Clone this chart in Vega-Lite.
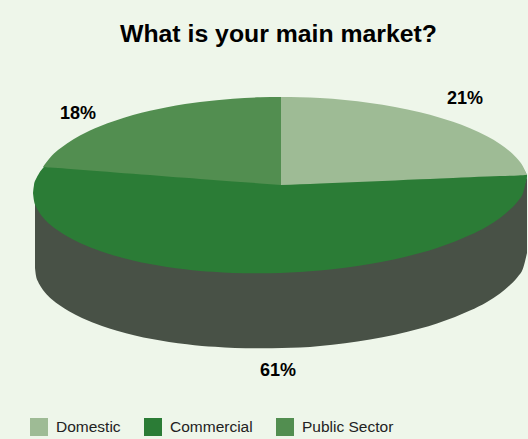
{"$schema":"https://vega.github.io/schema/vega-lite/v6.json","width":528,"height":389,"autosize":"none","padding":{"left":0,"top":50,"right":0,"bottom":0},"background":"#EEF6EA","title":{"text":"What is your main market?","font":"Liberation Sans","fontSize":24.8,"fontWeight":"bold","color":"#000000","anchor":"middle","offset":3,"dx":14.5},"config":{"view":{"stroke":null}},"datasets":{"wall":[{"x":35,"y":198,"y2":268},{"x":36,"y":203,"y2":275.8},{"x":38,"y":207,"y2":281.5},{"x":41,"y":211,"y2":287},{"x":45,"y":216,"y2":292.4},{"x":52,"y":222,"y2":299.4},{"x":60,"y":228,"y2":305.6},{"x":69,"y":234,"y2":311.3},{"x":82,"y":241,"y2":318},{"x":102,"y":249,"y2":326.1},{"x":117,"y":254,"y2":330.8},{"x":135,"y":258,"y2":335.4},{"x":152,"y":262,"y2":339},{"x":169,"y":265,"y2":341.9},{"x":187,"y":267,"y2":344.2},{"x":202,"y":269,"y2":345.9},{"x":215,"y":270,"y2":346.8},{"x":235,"y":271,"y2":347.9},{"x":262,"y":271,"y2":348.3},{"x":282,"y":271,"y2":348},{"x":300,"y":270,"y2":347.6},{"x":320,"y":268,"y2":346},{"x":345,"y":265,"y2":343.3},{"x":370,"y":261,"y2":339.6},{"x":395,"y":256,"y2":334.7},{"x":420,"y":250,"y2":328.5},{"x":437,"y":245,"y2":323.4},{"x":455,"y":238,"y2":317},{"x":470,"y":232,"y2":310.6},{"x":487,"y":223,"y2":301.9},{"x":500,"y":215,"y2":293.5},{"x":510,"y":206,"y2":285.1},{"x":518,"y":197,"y2":276.4},{"x":523,"y":189,"y2":268.4},{"x":527,"y":176,"y2":253}],"top":[{"market":"Commercial","x":33,"y":192.9,"y2":192.9},{"market":"Commercial","x":34,"y":185,"y2":200.8},{"market":"Commercial","x":36,"y":179.1,"y2":206.5},{"market":"Commercial","x":39,"y":173.4,"y2":212},{"market":"Commercial","x":43,"y":168,"y2":217.4},{"market":"Commercial","x":50,"y":160,"y2":224.4},{"market":"Commercial","x":58,"y":152,"y2":230.6},{"market":"Commercial","x":67,"y":145,"y2":236.3},{"market":"Commercial","x":80,"y":137.5,"y2":243},{"market":"Commercial","x":100,"y":128,"y2":251.1},{"market":"Commercial","x":115,"y":122.5,"y2":255.8},{"market":"Commercial","x":133,"y":117,"y2":260.4},{"market":"Commercial","x":150,"y":113,"y2":264},{"market":"Commercial","x":167,"y":109,"y2":266.9},{"market":"Commercial","x":185,"y":106,"y2":269.2},{"market":"Commercial","x":200,"y":104,"y2":270.9},{"market":"Commercial","x":213,"y":103,"y2":271.8},{"market":"Commercial","x":233,"y":100.5,"y2":272.9},{"market":"Commercial","x":260,"y":99,"y2":273.3},{"market":"Commercial","x":280,"y":99,"y2":273},{"market":"Commercial","x":300,"y":99,"y2":272.1},{"market":"Commercial","x":320,"y":100,"y2":270.5},{"market":"Commercial","x":345,"y":102,"y2":267.8},{"market":"Commercial","x":370,"y":105,"y2":264.1},{"market":"Commercial","x":395,"y":109,"y2":259.2},{"market":"Commercial","x":420,"y":114,"y2":253},{"market":"Commercial","x":437,"y":119,"y2":247.9},{"market":"Commercial","x":455,"y":125,"y2":241.5},{"market":"Commercial","x":470,"y":130,"y2":235.1},{"market":"Commercial","x":487,"y":138,"y2":226.4},{"market":"Commercial","x":500,"y":146,"y2":218},{"market":"Commercial","x":510,"y":153.5,"y2":209.6},{"market":"Commercial","x":518,"y":161.5,"y2":200.9},{"market":"Commercial","x":523,"y":168,"y2":192.9},{"market":"Commercial","x":527,"y":175,"y2":177},{"market":"Public Sector","x":43,"y":167,"y2":167},{"market":"Public Sector","x":46,"y":162.8,"y2":167.2},{"market":"Public Sector","x":50,"y":157.8,"y2":167.5},{"market":"Public Sector","x":58,"y":150.1,"y2":168.1},{"market":"Public Sector","x":67,"y":143.4,"y2":168.8},{"market":"Public Sector","x":80,"y":135.5,"y2":169.8},{"market":"Public Sector","x":100,"y":126.2,"y2":171.3},{"market":"Public Sector","x":115,"y":120.7,"y2":172.4},{"market":"Public Sector","x":133,"y":115.1,"y2":173.8},{"market":"Public Sector","x":150,"y":110.8,"y2":175.1},{"market":"Public Sector","x":167,"y":107.2,"y2":176.4},{"market":"Public Sector","x":185,"y":104.1,"y2":177.7},{"market":"Public Sector","x":200,"y":102,"y2":178.9},{"market":"Public Sector","x":233,"y":98.7,"y2":181.4},{"market":"Public Sector","x":260,"y":97.3,"y2":183.4},{"market":"Public Sector","x":281,"y":97,"y2":185},{"market":"Domestic","x":281,"y":97,"y2":185},{"market":"Domestic","x":300,"y":97.3,"y2":184.2},{"market":"Domestic","x":320,"y":98.1,"y2":183.4},{"market":"Domestic","x":345,"y":100.1,"y2":182.4},{"market":"Domestic","x":370,"y":103,"y2":181.4},{"market":"Domestic","x":395,"y":107,"y2":180.4},{"market":"Domestic","x":420,"y":112.3,"y2":179.3},{"market":"Domestic","x":440,"y":117.7,"y2":178.5},{"market":"Domestic","x":453,"y":121.8,"y2":178},{"market":"Domestic","x":470,"y":128.2,"y2":177.3},{"market":"Domestic","x":487,"y":136.3,"y2":176.6},{"market":"Domestic","x":500,"y":144,"y2":176.1},{"market":"Domestic","x":510,"y":151.6,"y2":175.7},{"market":"Domestic","x":518,"y":159.6,"y2":175.4},{"market":"Domestic","x":523,"y":166.4,"y2":175.2},{"market":"Domestic","x":527,"y":175,"y2":175}],"labels":[{"share":"21%","x":465,"y":99},{"share":"18%","x":78,"y":113.5},{"share":"61%","x":278,"y":371}]},"layer":[{"data":{"name":"wall"},"mark":{"type":"area","interpolate":"monotone","color":"#485146"},"encoding":{"x":{"field":"x","type":"quantitative","scale":{"domain":[0,528]},"axis":null},"y":{"field":"y","type":"quantitative","scale":{"domain":[439,50]},"axis":null},"y2":{"field":"y2"}}},{"data":{"name":"top"},"mark":{"type":"area","interpolate":"monotone"},"encoding":{"x":{"field":"x","type":"quantitative","scale":{"domain":[0,528]},"axis":null},"y":{"field":"y","type":"quantitative","scale":{"domain":[439,50]},"axis":null},"y2":{"field":"y2"},"color":{"field":"market","type":"nominal","sort":null,"scale":{"domain":["Domestic","Commercial","Public Sector"],"range":["#9EBB95","#2B7C36","#528E50"]},"legend":{"orient":"none","legendX":30,"legendY":368,"direction":"horizontal","title":null,"symbolType":"square","symbolSize":324,"symbolStrokeWidth":0,"symbolOpacity":1,"labelFont":"Liberation Sans","labelFontSize":15.5,"labelColor":"#222222","labelOffset":8,"columnPadding":23,"padding":0}}}},{"data":{"name":"labels"},"mark":{"type":"text","font":"Liberation Sans","fontSize":18,"fontWeight":"bold","color":"#000000","align":"center","baseline":"middle"},"encoding":{"x":{"field":"x","type":"quantitative","scale":{"domain":[0,528]},"axis":null},"y":{"field":"y","type":"quantitative","scale":{"domain":[439,50]},"axis":null},"text":{"field":"share"}}}]}
